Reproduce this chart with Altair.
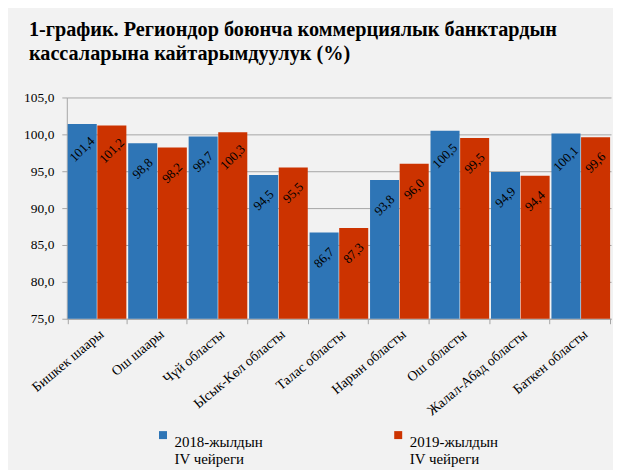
import altair as alt
import pandas as pd

regions = ["Бишкек шаары", "Ош шаары", "Чүй областы", "Ысык-Көл областы",
           "Талас областы", "Нарын областы", "Ош областы", "Жалал-Абад областы",
           "Баткен областы"]
series_names = ["2018-жылдын IV чейреги", "2019-жылдын IV чейреги"]
v2018 = [101.4, 98.8, 99.7, 94.5, 86.7, 93.8, 100.5, 94.9, 100.1]
v2019 = [101.2, 98.2, 100.3, 95.5, 87.3, 96.0, 99.5, 94.4, 99.6]
colors = ["#2e75b6", "#cc3300"]
title_lines = ["1-график. Региондор боюнча коммерциялык банктардын",
               "кассаларына кайтарымдуулук (%)"]

rows = []
for r, a, b in zip(regions, v2018, v2019):
    rows.append({"region": r, "series": series_names[0], "value": a})
    rows.append({"region": r, "series": series_names[1], "value": b})
df = pd.DataFrame(rows)

FONT = "Liberation Serif"

x = alt.X("region:N", sort=regions, title=None,
          scale=alt.Scale(paddingInner=0.03, paddingOuter=0.015),
          axis=alt.Axis(labelAngle=-40, labelFont=FONT, labelFontSize=14,
                        labelColor="#000000", tickBand="extent", tickSize=5,
                        tickColor="#a6a6a6", domainColor="#a6a6a6",
                        labelPadding=3, grid=False))
xo = alt.XOffset("series:N", sort=series_names,
                 scale=alt.Scale(paddingInner=0.02))
y = alt.Y("value:Q", title=None,
          scale=alt.Scale(domain=[75, 105], nice=False, zero=False),
          axis=alt.Axis(values=[75, 80, 85, 90, 95, 100, 105],
                        labelExpr="replace(format(datum.value, '.1f'), '.', ',')",
                        labelFont=FONT, labelFontSize=13.5, labelColor="#000000",
                        tickSize=5, tickColor="#a6a6a6", domainColor="#a6a6a6",
                        gridColor="#a6a6a6", gridWidth=1, labelPadding=8))

bars = alt.Chart(df).mark_bar(clip=True).encode(
    x=x, xOffset=xo, y=y,
    color=alt.Color("series:N", sort=series_names,
                    scale=alt.Scale(domain=series_names, range=colors),
                    legend=alt.Legend(
                        title=None, orient="none", legendX=89, legendY=331,
                        direction="horizontal", columns=2, columnPadding=128,
                        symbolType="square", symbolSize=64, symbolStrokeWidth=0,
                        labelFont=FONT, labelFontSize=15, labelColor="#000000",
                        labelLimit=300, labelOffset=4, labelBaseline="top",
                        labelExpr="[slice(datum.label, 0, 11), slice(datum.label, 12)]",
                        padding=0)),
)

labels = alt.Chart(df).transform_calculate(
    lab="replace(format(datum.value, '.1f'), '.', ',')"
).mark_text(angle=315, align="center", baseline="middle", dx=-18, dy=18,
            font=FONT, fontSize=13, color="#000000").encode(
    x=x, xOffset=xo, y=y, text="lab:N")

chart = alt.layer(bars, labels).properties(
    width=546, height=222,
    background="#f2f2f2",
    autosize=alt.AutoSizeParams(type="none"),
    padding={"left": 59, "right": 2, "top": 89, "bottom": 151},
    title=alt.TitleParams(text=title_lines, anchor="start", frame="group",
                          font=FONT, fontSize=20.3, fontWeight="bold",
                          color="#000000", lineHeight=24, offset=26, dx=-38),
).configure_view(stroke=None)

chart.save("out.html", embed_options={"renderer": "svg", "actions": False})
